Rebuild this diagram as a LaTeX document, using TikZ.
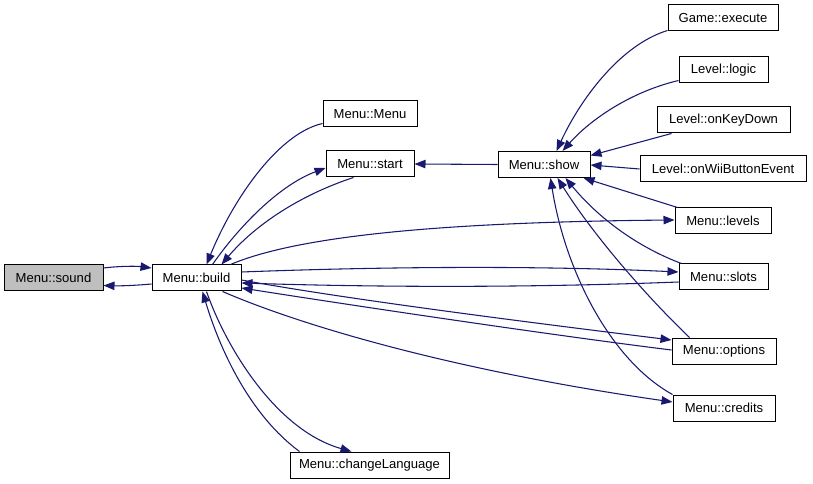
\documentclass[tikz,border=0pt]{standalone}
\usepackage{fontspec}
\setmainfont{Liberation Sans}
\usetikzlibrary{arrows.meta,calc}
\definecolor{mb}{HTML}{191970}
\definecolor{cur}{HTML}{BFBFBF}
\begin{document}
\begin{tikzpicture}[x=0.75pt,y=-0.75pt,
  box/.style={draw=black,fill=white,line width=0.75pt,inner sep=0pt,minimum height=19.5pt,font=\fontsize{9.8}{11}\selectfont},
  e/.style={draw=mb,line width=0.8pt,-{Triangle[length=8.25pt,width=6.3pt]}}]
\useasboundingbox (0,0) rectangle (813,484);
\fill[white] (0,0) rectangle (813,484);
\node[box,fill=cur,minimum width=74.25pt] (sound) at (53.5,277.5) {Menu::sound};
\node[box,minimum width=66.75pt] (build) at (196.5,278) {Menu::build};
\node[box,minimum width=70.5pt] (menu) at (370,114) {Menu::Menu};
\node[box,minimum width=66pt] (start) at (370,164) {Menu::start};
\node[box,minimum width=69pt] (show) at (544,164.5) {Menu::show};
\node[box,minimum width=82.5pt] (exec) at (723,18) {Game::execute};
\node[box,minimum width=66.75pt] (logic) at (723.5,70) {Level::logic};
\node[box,minimum width=99.75pt] (key) at (723.5,120) {Level::onKeyDown};
\node[box,minimum width=124.5pt] (wii) at (723,169) {Level::onWiiButtonEvent};
\node[box,minimum width=72pt] (levels) at (723,221) {Menu::levels};
\node[box,minimum width=66.75pt] (slots) at (723.5,277) {Menu::slots};
\node[box,minimum width=78pt] (options) at (724,351) {Menu::options};
\node[box,minimum width=76.5pt] (credits) at (724,408) {Menu::credits};
\node[box,minimum width=119.25pt] (lang) at (369.5,465) {Menu::changeLanguage};
% sound <-> build
\draw[e] ($(sound.east)+(0,-9.5)$) .. controls (120,266) and (136,266) .. ($(build.west)+(0,-10)$);
\draw[e] ($(build.west)+(0,6)$) .. controls (135,285.5) and (120,286) .. ($(sound.east)+(0,8)$);
% menu, start
\draw[e] ($(menu.south west)+(0,-4)$) .. controls (280,133) and (235,195) .. ($(build.north west)+(55,0)$);
\draw[e] ($(build.north west)+(61,0)$) .. controls (240,225) and (280,185) .. ($(start.west)+(0,4)$);
\draw[e] ($(start.south west)+(28,0)$) .. controls (300,195) and (255,225) .. ($(build.north west)+(70,0)$);
\draw[e] (show.west) -- (start.east);
% build <-> right side
\draw[e] ($(build.north east)+(-11,0)$) .. controls (300,235) and (450,222) .. ($(levels.west)+(0,-1)$);
\draw[e] ($(build.east)+(0,-6)$) .. controls (400,266) and (550,266) .. ($(slots.west)+(0,-5)$);
\draw[e] ($(slots.west)+(0,5)$) .. controls (550,287) and (400,288) .. ($(build.east)+(0,5)$);
\draw[e] ($(build.east)+(0,2)$) .. controls (350,300) and (550,325) .. ($(options.west)+(0,-11)$);
\draw[e] ($(options.west)+(0,-1)$) .. controls (550,335) and (350,305) .. ($(build.east)+(0,10)$);
\draw[e] ($(build.south west)+(71,0)$) .. controls (300,325) and (450,370) .. ($(credits.west)+(0,-6)$);
\draw[e] ($(build.south west)+(55,0)$) .. controls (225,345) and (275,430) .. ($(lang.north west)+(62,0)$);
\draw[e] ($(lang.north west)+(10,0)$) .. controls (250,415) and (220,350) .. ($(build.south west)+(51,0)$);
% into show
\draw[e] ($(exec.south west)+(0,-1)$) .. controls (620,45) and (580,100) .. ($(show.north west)+(59,0)$);
\draw[e] ($(logic.south west)+(0,-3)$) .. controls (630,92) and (590,120) .. ($(show.north west)+(65,0)$);
\draw[e] ($(key.south west)+(15,0)$) -- ($(show.east)+(0,-9)$);
\draw[e] (wii.west) -- ($(show.east)+(0,0.5)$);
\draw[e] ($(levels.north west)+(3,0)$) -- ($(show.south east)+(-7,0)$);
\draw[e] ($(slots.north west)+(3,0)$) .. controls (640,248) and (600,220) .. ($(show.south west)+(68,0)$);
\draw[e] ($(options.north west)+(18,0)$) .. controls (640,290) and (590,230) .. ($(show.south west)+(60,0)$);
\draw[e] (credits.north west) .. controls (610,360) and (565,270) .. ($(show.south west)+(53,0)$);
\end{tikzpicture}
\end{document}
